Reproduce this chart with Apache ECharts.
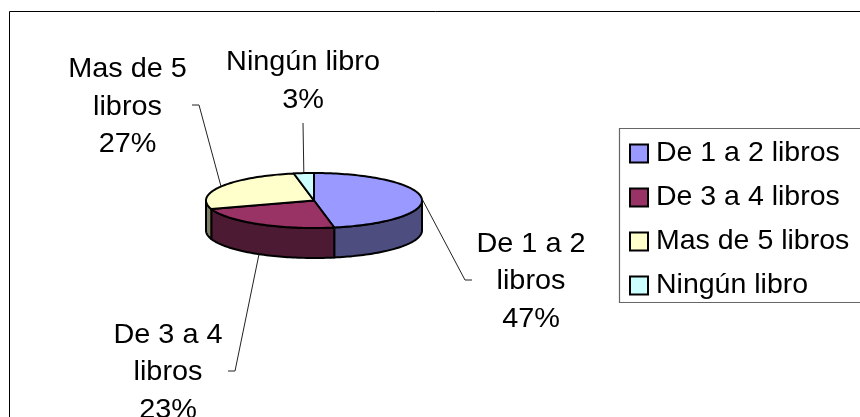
<!DOCTYPE html>
<html><head><meta charset="utf-8">
<style>html,body{margin:0;padding:0;background:#fff;overflow:hidden}#c{width:860px;height:417px}</style>
<script src="https://cdn.jsdelivr.net/npm/echarts@6/dist/echarts.min.js"></script>
</head><body><div id="c"></div>
<script>
const categories = ['De 1 a 2 libros', 'De 3 a 4 libros', 'Mas de 5 libros', 'Ningún libro'];
const values = [47, 23, 27, 3];
const topColors = ['#9999FF', '#993366', '#FFFFCC', '#CCFFFF'];
const sideColors = ['#4D4D80', '#4D1A33', '#808066', '#668080'];
const labelLines = [['De 1 a 2', 'libros'], ['De 3 a 4', 'libros'], ['Mas de 5', 'libros'], ['Ningún libro']];

const FONT = '"Liberation Sans", Arial, sans-serif';
const PIE = {cx: 314, cy: 200.5, rx: 108, ry: 27.5, depth: 30};
// label block centre and elbow of the leader, per category
const LABEL = [
  {x: 531, y: 281.5, elbow: [465, 280], end: [472, 280]},
  {x: 168, y: 372.5, elbow: [235, 371], end: [228, 371]},
  {x: 127.5, y: 107, elbow: [199, 105], end: [192, 105]},
  {x: 303, y: 81.5, elbow: [303, 123], end: null}
];
const total = values.reduce((a, b) => a + b, 0);
const starts = values.map((_, i) => values.slice(0, i).reduce((a, b) => a + b, 0) / total * 360);
const pt = (deg, dy) => {
  const r = deg * Math.PI / 180;
  return [PIE.cx + PIE.rx * Math.sin(r), PIE.cy - PIE.ry * Math.cos(r) + (dy || 0)];
};
const arc = (a, b, dy) => {
  const out = [];
  const n = Math.max(2, Math.ceil(Math.abs(b - a) / 1.5));
  for (let k = 0; k <= n; k++) out.push(pt(a + (b - a) * k / n, dy));
  return out;
};
const stroke = {stroke: '#000', lineWidth: 2, lineJoin: 'round'};

function renderSlice(i) {
  return function (params, api) {
    const a0 = starts[i];
    const a1 = a0 + api.value(0) / total * 360;
    const children = [];
    // front wall: only the part facing the viewer (90..270 degrees)
    const s0 = Math.max(a0, 90), s1 = Math.min(a1, 270);
    if (s1 > s0) {
      const upper = arc(s0, s1, 0), lower = arc(s1, s0, PIE.depth);
      children.push({type: 'polygon', shape: {points: upper.concat(lower)},
        style: Object.assign({fill: sideColors[i]}, stroke)});
    }
    return {type: 'group', children};
  };
}
function renderTop(i) {
  return function (params, api) {
    const a0 = starts[i];
    const a1 = a0 + api.value(0) / total * 360;
    const mid = (a0 + a1) / 2;
    const pts = [[PIE.cx, PIE.cy]].concat(arc(a0, a1, 0));
    const front = mid > 90 && mid < 270;
    const anchor = pt(mid, front ? PIE.depth : 0);
    const L = LABEL[i];
    const leader = [anchor, L.elbow].concat(L.end ? [L.end] : []);
    const lines = labelLines[i].concat([api.value(0) + '%']);
    return {type: 'group', children: [
      {type: 'polygon', shape: {points: pts}, style: Object.assign({fill: topColors[i]}, stroke)},
      {type: 'polyline', shape: {points: leader}, style: {fill: 'none', stroke: '#222', lineWidth: 1}},
      {type: 'text', x: L.x, y: L.y, scaleX: 1.03, style: {
        text: lines.join('\n'), font: '28px ' + FONT, fill: '#000',
        align: 'center', verticalAlign: 'middle', lineHeight: 37.5}}
    ]};
  };
}

const chart = echarts.init(document.getElementById('c'), null, {renderer: 'canvas'});
const sideSeries = categories.map((name, i) => ({
  type: 'custom', name, coordinateSystem: 'none', silent: true, animation: false, z: 2,
  itemStyle: {color: topColors[i]}, renderItem: renderSlice(i), data: [[values[i]]]
}));
const topSeries = categories.map((name, i) => ({
  type: 'custom', name, coordinateSystem: 'none', silent: true, animation: false, z: 3,
  itemStyle: {color: topColors[i]}, renderItem: renderTop(i), data: [[values[i]]]
}));
chart.setOption({
  animation: false,
  backgroundColor: '#fff',
  graphic: [
    {type: 'rect', z: 0, shape: {x: 9.5, y: 11.5, width: 900, height: 440}, style: {fill: '#fff', stroke: '#000', lineWidth: 1}},
    {type: 'rect', z: 0, shape: {x: 619.5, y: 128.5, width: 300, height: 174}, style: {fill: '#fff', stroke: '#666', lineWidth: 1.2}}
  ],
  legend: {
    orient: 'vertical', left: 629, top: 139, selectedMode: false,
    icon: 'rect', itemWidth: 18, itemHeight: 18, itemGap: 15, padding: 0,
    data: categories,
    textStyle: {fontFamily: FONT, fontSize: 28.5, color: '#000', padding: [0, 0, 0, 3]},
    itemStyle: {borderColor: '#000', borderWidth: 2}
  },
  series: sideSeries.concat(topSeries)
});
</script></body></html>
